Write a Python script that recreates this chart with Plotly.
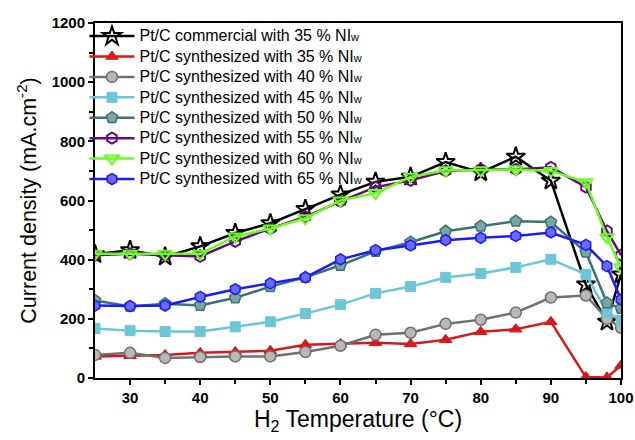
import plotly.graph_objects as go

temps = [25, 30, 35, 40, 45, 50, 55, 60, 65, 70, 75, 80, 85, 90, 95, 98, 100]

commercial_35 = [418, 432, 410, 445, 490, 523, 571, 620, 663, 680, 730, 695, 748, 667, 316, 190, 350]
synth_35 = [73, 75, 78, 85, 88, 92, 112, 115, 119, 115, 129, 156, 165, 190, 3, 2, 42]
synth_40 = [78, 85, 68, 71, 73, 73, 88, 109, 146, 153, 183, 197, 221, 272, 279, 200, 170]
synth_45 = [167, 160, 157, 157, 173, 190, 218, 248, 286, 309, 340, 353, 374, 401, 350, 222, 195]
synth_50 = [262, 242, 251, 245, 271, 309, 340, 381, 428, 459, 496, 513, 530, 527, 425, 254, 235]
synth_55 = [415, 420, 415, 411, 462, 505, 545, 597, 645, 668, 700, 705, 705, 712, 645, 497, 415]
synth_60 = [420, 420, 420, 420, 478, 505, 540, 600, 625, 680, 702, 702, 705, 700, 662, 476, 374]
synth_65 = [245, 243, 245, 274, 300, 320, 340, 401, 432, 448, 466, 474, 480, 492, 450, 378, 265]

labels = [
    "Pt/C commercial with 35 % NI",
    "Pt/C synthesized with 35 % NI",
    "Pt/C synthesized with 40 % NI",
    "Pt/C synthesized with 45 % NI",
    "Pt/C synthesized with 50 % NI",
    "Pt/C synthesized with 55 % NI",
    "Pt/C synthesized with 60 % NI",
    "Pt/C synthesized with 65 % NI",
]
series = [commercial_35, synth_35, synth_40, synth_45, synth_50, synth_55, synth_60, synth_65]

styles = [
    dict(color="#000000", symbol="star-open", size=14, fill="#000000", lw=2),
    dict(color="#d7191c", symbol="triangle-up", size=11, fill="#d7191c", lw=1),
    dict(color="#707070", symbol="circle", size=11, fill="#b8b8b8", lw=1.5),
    dict(color="#6cc6d6", symbol="square", size=10, fill="#6cc6d6", lw=1),
    dict(color="#3c7272", symbol="pentagon", size=12, fill="#7aa5a5", lw=1.5),
    dict(color="#660a80", symbol="hexagon-open", size=11, fill="#660a80", lw=2),
    dict(color="#66ff1a", symbol="triangle-down-open", size=12, fill="#66ff1a", lw=2),
    dict(color="#1a1aff", symbol="hexagon", size=11, fill="#6a6aff", lw=1.5),
]

fig = go.Figure()
for label, ys, st in zip(labels, series, styles):
    name = ("<span style='font-size:16px'>" + label +
            "<span style='font-size:11px'>w</span></span>")
    fig.add_trace(go.Scatter(
        x=temps, y=ys, name=name, mode="lines+markers",
        line=dict(color=st["color"], width=2.5),
        marker=dict(symbol=st["symbol"], size=st["size"], color=st["fill"],
                    line=dict(color=st["color"], width=st["lw"])),
    ))

fig.update_layout(
    width=635, height=440,
    margin=dict(l=95, r=14, t=23, b=62),
    paper_bgcolor="white", plot_bgcolor="white",
    font=dict(family="Liberation Sans, Arial, sans-serif", color="black"),
    showlegend=True,
    legend=dict(x=-0.02, y=1.006, xanchor="left", yanchor="top",
                bgcolor="rgba(255,255,255,0)", font=dict(size=13.4),
                tracegroupgap=0, itemwidth=45),
)
fig.update_xaxes(
    range=[25, 100], tickvals=[30, 40, 50, 60, 70, 80, 90, 100],
    ticks="outside", ticklen=5, tickwidth=2, tickcolor="black",
    minor=dict(tickvals=[35, 45, 55, 65, 75, 85, 95], ticks="outside", ticklen=4, tickwidth=2, tickcolor="black"),
    showline=True, linewidth=2, linecolor="black", mirror=True,
    showgrid=False, zeroline=False, automargin=False,
    tickfont=dict(size=15, weight="bold"),
    title=dict(text="H<sub>2</sub> Temperature (°C)", font=dict(size=23), standoff=5),
)
fig.update_yaxes(
    range=[0, 1200], tickvals=[0, 200, 400, 600, 800, 1000, 1200],
    ticks="outside", ticklen=5, tickwidth=2, tickcolor="black",
    minor=dict(tickvals=[100, 300, 500, 700, 900, 1100], ticks="outside", ticklen=4, tickwidth=2, tickcolor="black"),
    showline=True, linewidth=2, linecolor="black", mirror=True,
    showgrid=False, zeroline=False, automargin=False,
    tickfont=dict(size=15, weight="bold"),
    title=dict(text="Current density (mA.cm<sup>-2</sup>)", font=dict(size=21.5), standoff=9),
)

fig.write_html("out.html", config={"displayModeBar": False},
               post_script="document.body.style.margin='0';document.body.style.overflow='hidden';")
